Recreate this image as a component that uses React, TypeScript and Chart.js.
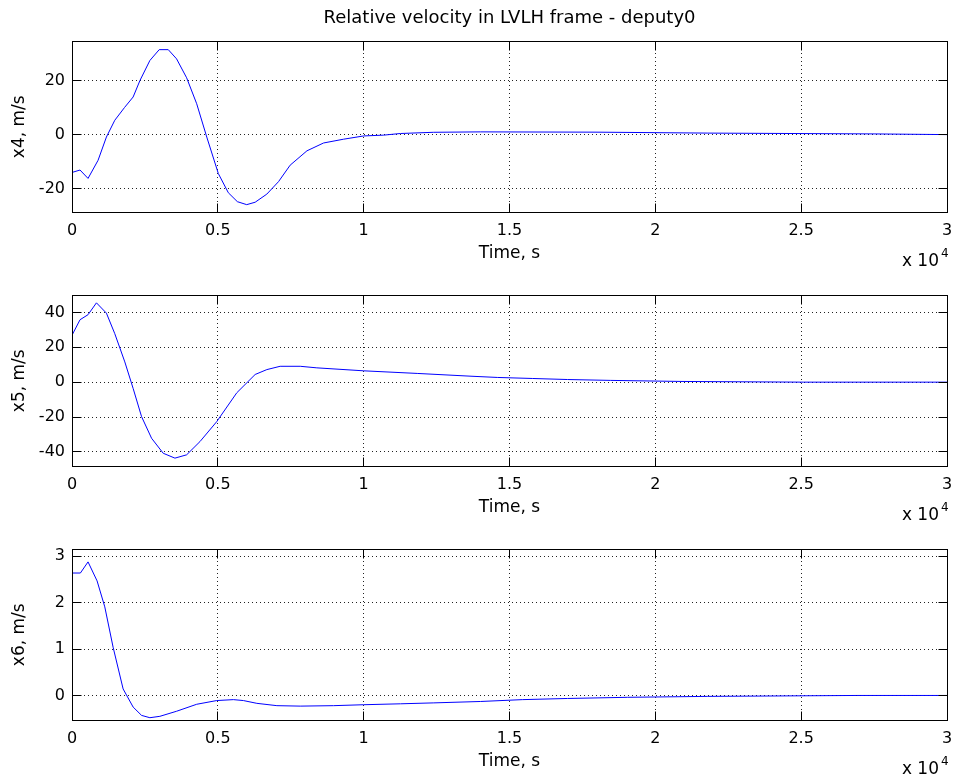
import React, { useEffect, useRef } from "react";
import { Chart, registerables } from "chart.js";

Chart.register(...registerables);

// ---------- text ----------
const TITLE = "Relative velocity in LVLH frame - deputy0";
const X_LABEL = "Time, s";
const X_EXP_BASE = "x 10";
const X_EXP_POWER = "4";

// ---------- x axis ----------
const X_MIN = 0;
const X_MAX = 30000;
const X_TICKS = [0, 5000, 10000, 15000, 20000, 25000, 30000];

// ---------- x4 ----------
const x4Label = "x4, m/s";
const x4Time = [0, 275, 550, 894, 1180, 1467, 1800, 2096, 2330, 2670, 2990, 3300, 3585, 3930, 4275, 4620, 5017, 5360, 5670, 5990, 6280, 6680, 7080, 7480, 8055, 8625, 9312, 10000, 10687, 11260, 12400, 14000, 18000, 21800, 27500, 30000];
const x4Values = [-14, -13.1, -16.2, -9.5, -0.9, 5.3, 10, 13.9, 20, 27.4, 31.4, 31.4, 28, 21, 11.4, -0.9, -14.4, -21.5, -24.8, -25.9, -25, -22, -17.4, -11.3, -6, -3.1, -1.7, -0.5, -0.2, 0.4, 0.85, 1.0, 0.9, 0.55, 0.25, 0];
const x4Ticks = [-20, 0, 20];
const x4Range = [-28.8, 34.6];

// ---------- x5 ----------
const x5Label = "x5, m/s";
const x5Time = [0, 275, 550, 838, 1180, 1467, 1811, 2096, 2385, 2728, 3127, 3529, 3930, 4388, 4960, 5650, 6280, 6680, 7136, 7825, 8395, 10000, 11835, 13680, 14580, 15780, 16990, 18470, 20880, 25080, 30000];
const x5Values = [26.9, 35.8, 38.7, 45.5, 39.6, 27.8, 11.6, -3.6, -19.8, -32.2, -40.8, -43.6, -41.7, -34.1, -22.7, -6.1, 4.4, 7.2, 9.1, 9.1, 8.2, 6.5, 5, 3.4, 2.7, 2.1, 1.5, 1.0, 0.4, 0, 0];
const x5Ticks = [-40, -20, 0, 20, 40];
const x5Range = [-48.4, 50];

// ---------- x6 ----------
const x6Label = "x6, m/s";
const x6Time = [0, 288, 550, 860, 1124, 1409, 1753, 2096, 2385, 2670, 3013, 3588, 4275, 4962, 5533, 5876, 6337, 7024, 7825, 8969, 10000, 11260, 12405, 14000, 15440, 16990, 19050, 21780, 26900, 30000];
const x6Values = [2.64, 2.64, 2.88, 2.47, 1.91, 1.04, 0.14, -0.25, -0.43, -0.48, -0.45, -0.34, -0.19, -0.11, -0.09, -0.11, -0.17, -0.22, -0.23, -0.22, -0.2, -0.18, -0.16, -0.13, -0.09, -0.065, -0.04, -0.02, 0, 0];
const x6Ticks = [0, 1, 2, 3];
const x6Range = [-0.54, 3.158];

// ---------- layout / style ----------
const FONT = "'DejaVu Sans', 'Liberation Sans', Arial, sans-serif";
const CANVAS_W = 955;
const CANVAS_H = 275;
const PANEL_TOPS = [0, 254, 508];
const AREA_TOP = 41;
const AREA_H = 171.5;
const AREA_LEFT = 72;
const AREA_RIGHT_PAD = 8;
const TICK_LEN = 9;
const LINE_COLOR = "#0000ff";

const align = (p: number) => Math.round(p - 0.5) + 0.5;

function makeFramePlugin(showTitle: boolean) {
  return {
    id: "matlabFrame",
    afterDatasetsDraw(chart: any) {
      const { ctx, chartArea: a, scales } = chart;
      const L = align(a.left);
      const R = align(a.right);
      const T = align(a.top);
      const B = align(a.bottom);
      ctx.save();
      ctx.setLineDash([]);
      ctx.strokeStyle = "#000";
      ctx.lineWidth = 1;
      ctx.strokeRect(L, T, R - L, B - T);
      ctx.beginPath();
      for (const t of scales.x.ticks) {
        const px = align(scales.x.getPixelForValue(t.value));
        ctx.moveTo(px, B);
        ctx.lineTo(px, B - TICK_LEN);
        ctx.moveTo(px, T);
        ctx.lineTo(px, T + TICK_LEN);
      }
      for (const t of scales.y.ticks) {
        const py = align(scales.y.getPixelForValue(t.value));
        ctx.moveTo(L, py);
        ctx.lineTo(L + TICK_LEN, py);
        ctx.moveTo(R, py);
        ctx.lineTo(R - TICK_LEN, py);
      }
      ctx.stroke();

      ctx.fillStyle = "#000";
      // exponent label "x 10^4"
      ctx.font = `17px ${FONT}`;
      ctx.textAlign = "right";
      ctx.textBaseline = "middle";
      ctx.fillText(X_EXP_BASE, a.right - 8, a.bottom + 49);
      ctx.font = `12px ${FONT}`;
      ctx.textAlign = "left";
      ctx.fillText(X_EXP_POWER, a.right - 6, a.bottom + 41.5);

      if (showTitle) {
        ctx.font = `18px ${FONT}`;
        ctx.textAlign = "center";
        ctx.textBaseline = "middle";
        ctx.fillText(TITLE, (a.left + a.right) / 2, a.top - 22.5);
      }
      ctx.restore();
    },
  };
}

type PanelProps = {
  times: number[];
  values: number[];
  yTicks: number[];
  yRange: number[];
  yLabel: string;
  top: number;
  showTitle: boolean;
};

function Panel({ times, values, yTicks, yRange, yLabel, top, showTitle }: PanelProps) {
  const ref = useRef<HTMLCanvasElement | null>(null);
  useEffect(() => {
    if (!ref.current) return;
    const points = times.map((t, i) => ({ x: t, y: values[i] }));
    const chart = new Chart(ref.current, {
      type: "line",
      data: {
        datasets: [
          {
            data: points,
            borderColor: LINE_COLOR,
            borderWidth: 1,
            pointRadius: 0,
            tension: 0,
            fill: false,
          },
        ],
      },
      options: {
        responsive: false,
        animation: false,
        devicePixelRatio: 1,
        layout: { padding: { top: AREA_TOP, right: AREA_RIGHT_PAD, left: 0, bottom: 0 } },
        plugins: {
          legend: { display: false },
          tooltip: { enabled: false },
          title: { display: false },
        },
        scales: {
          x: {
            type: "linear",
            min: X_MIN,
            max: X_MAX,
            afterBuildTicks: (s: any) => {
              s.ticks = X_TICKS.map((v) => ({ value: v }));
            },
            afterFit: (s: any) => {
              s.height = CANVAS_H - AREA_TOP - AREA_H;
              s.paddingLeft = 0;
              s.paddingRight = 0;
            },
            grid: { color: "#222", lineWidth: 1, drawTicks: false },
            border: { display: false, dash: [1, 3] },
            ticks: {
              color: "#000",
              font: { family: FONT, size: 16 },
              padding: 9,
              maxRotation: 0,
              autoSkip: false,
              callback: (v: any) => String(Number(v) / 1e4),
            },
            title: {
              display: true,
              text: X_LABEL,
              color: "#000",
              font: { family: FONT, size: 17 },
              padding: { top: 0, bottom: 11.7 },
            },
          },
          y: {
            type: "linear",
            min: yRange[0],
            max: yRange[1],
            afterBuildTicks: (s: any) => {
              s.ticks = yTicks.map((v) => ({ value: v }));
            },
            afterFit: (s: any) => {
              s.width = AREA_LEFT;
              s.paddingTop = 0;
              s.paddingBottom = 0;
            },
            grid: { color: "#222", lineWidth: 1, drawTicks: false },
            border: { display: false, dash: [1, 3] },
            ticks: {
              color: "#000",
              font: { family: FONT, size: 16 },
              padding: 7,
              callback: (v: any) => String(v),
            },
            title: {
              display: true,
              text: yLabel,
              color: "#000",
              font: { family: FONT, size: 17 },
              padding: { top: 9, bottom: 0 },
            },
          },
        },
      },
      plugins: [makeFramePlugin(showTitle)],
    } as any);
    return () => chart.destroy();
  }, []);
  return (
    <canvas
      ref={ref}
      width={CANVAS_W}
      height={CANVAS_H}
      style={{ position: "absolute", left: 0, top, width: CANVAS_W, height: CANVAS_H }}
    />
  );
}

export default function App() {
  return (
    <div
      style={{
        position: "fixed",
        left: 0,
        top: 0,
        width: CANVAS_W,
        height: 780,
        overflow: "hidden",
        background: "#fff",
      }}
    >
      <Panel times={x4Time} values={x4Values} yTicks={x4Ticks} yRange={x4Range} yLabel={x4Label} top={PANEL_TOPS[0]} showTitle={true} />
      <Panel times={x5Time} values={x5Values} yTicks={x5Ticks} yRange={x5Range} yLabel={x5Label} top={PANEL_TOPS[1]} showTitle={false} />
      <Panel times={x6Time} values={x6Values} yTicks={x6Ticks} yRange={x6Range} yLabel={x6Label} top={PANEL_TOPS[2]} showTitle={false} />
    </div>
  );
}
